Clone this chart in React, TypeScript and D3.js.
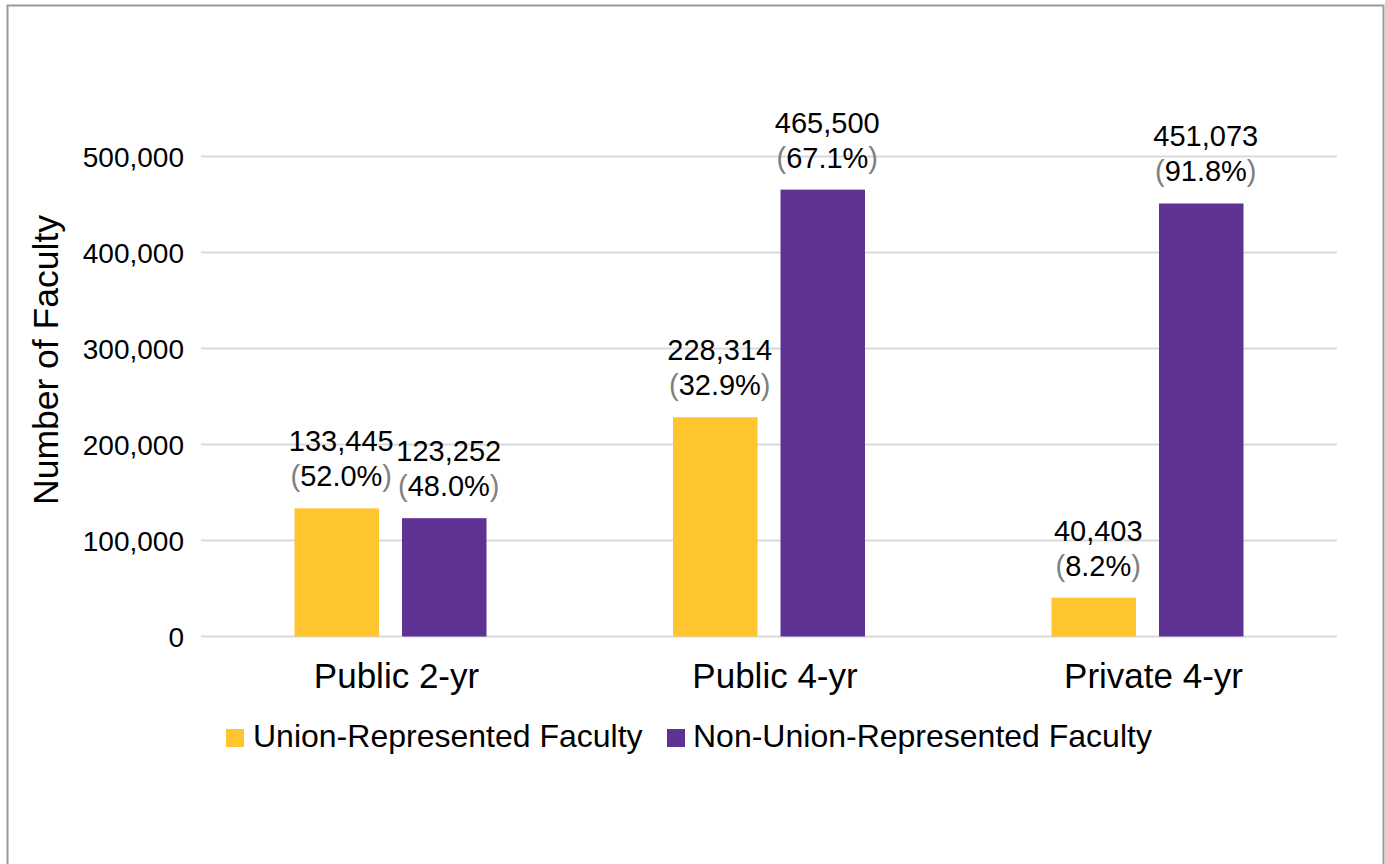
import React from "react";
import * as d3 from "d3";

const categories = ["Public 2-yr", "Public 4-yr", "Private 4-yr"];
const seriesNames = ["Union-Represented Faculty", "Non-Union-Represented Faculty"];
const unionValues = [133445, 228314, 40403];
const nonUnionValues = [123252, 465500, 451073];
const unionPct = ["52.0%", "32.9%", "8.2%"];
const nonUnionPct = ["48.0%", "67.1%", "91.8%"];
const yTicks = [0, 100000, 200000, 300000, 400000, 500000];
const colors = ["#FFC52E", "#5F3393"];

const W = 1385;
const H = 864;
const plotLeft = 201.25;
const plotRight = 1336.75;
const plotTop = 156.5;
const plotBottom = 636.5;
const FONT = "Arial, 'Liberation Sans', Helvetica, sans-serif";

export default function App() {
  const x0 = d3.scaleBand<string>().domain(categories).range([plotLeft, plotRight]).padding(0);
  const x1 = d3
    .scaleBand<string>()
    .domain(seriesNames)
    .range([0, x0.bandwidth()])
    .paddingInner(0.214)
    .paddingOuter(0.8675);
  const y = d3.scaleLinear().domain([0, 500000]).range([plotBottom, plotTop]);
  const fmt = d3.format(",");
  const series = [
    { name: seriesNames[0], values: unionValues, pct: unionPct, color: colors[0] },
    { name: seriesNames[1], values: nonUnionValues, pct: nonUnionPct, color: colors[1] },
  ];

  return (
    <div style={{ position: "fixed", left: 0, top: 0, width: W, height: H, background: "#fff" }}>
      <svg width={W} height={H} style={{ display: "block", fontFamily: FONT }}>
        <rect x={0} y={0} width={W} height={H} fill="#fff" />
        <rect x={7.5} y={5.5} width={1376} height={870} fill="none" stroke="#9a9a9a" strokeWidth={2} />
        {yTicks.map((t) => (
          <g key={t}>
            <line x1={plotLeft} x2={plotRight} y1={y(t)} y2={y(t)} stroke="#d9d9d9" strokeWidth={2} />
            <text x={184} y={y(t)} dy="0.36em" textAnchor="end" fontSize={28} fill="#000">
              {fmt(t)}
            </text>
          </g>
        ))}
        <text
          transform={`translate(58,360) rotate(-90)`}
          textAnchor="middle"
          fontSize={35.5}
          fill="#000"
        >
          Number of Faculty
        </text>
        {series.map((s) =>
          categories.map((c, i) => {
            const bx = (x0(c) as number) + (x1(s.name) as number);
            const by = y(s.values[i]);
            const cx = bx + x1.bandwidth() / 2 + 4.5;
            return (
              <g key={s.name + c}>
                <rect x={bx} y={by} width={x1.bandwidth()} height={plotBottom - by} fill={s.color} />
                <text x={cx} y={by - 57} textAnchor="middle" fontSize={29} fill="#000">
                  {fmt(s.values[i])}
                </text>
                <text x={cx} y={by - 22} textAnchor="middle" fontSize={29} fill="#000">
                  <tspan fill="#7f7f7f">(</tspan>
                  {s.pct[i]}
                  <tspan fill="#7f7f7f">)</tspan>
                </text>
              </g>
            );
          })
        )}
        {categories.map((c) => (
          <text
            key={c}
            x={(x0(c) as number) + x0.bandwidth() / 2 + 6}
            y={688}
            textAnchor="middle"
            fontSize={35}
            fill="#000"
          >
            {c}
          </text>
        ))}
        <g>
          <rect x={226} y={729} width={18} height={18} fill={colors[0]} />
          <text x={253} y={747} fontSize={32} fill="#000">
            {seriesNames[0]}
          </text>
          <rect x={667} y={729} width={18} height={18} fill={colors[1]} />
          <text x={693} y={747} fontSize={32} fill="#000">
            {seriesNames[1]}
          </text>
        </g>
      </svg>
    </div>
  );
}
